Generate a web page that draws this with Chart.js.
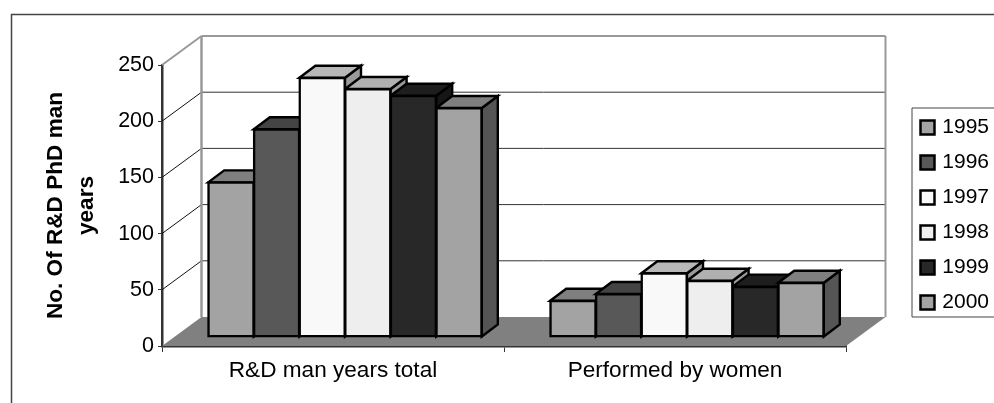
<!DOCTYPE html>
<html>
<head>
<meta charset="utf-8">
<style>html,body{margin:0;padding:0;background:#fff}canvas{display:block}</style>
<script src="https://cdn.jsdelivr.net/npm/chart.js@4"></script>
</head>
<body>
<canvas id="c" width="994" height="403"></canvas>
<script>
const categories = ["R&D man years total", "Performed by women"];
const seriesNames = ["1995", "1996", "1997", "1998", "1999", "2000"];
const v1995 = [137.6, 32.3];
const v1996 = [184.8, 38.3];
const v1997 = [230.7, 56.7];
const v1998 = [220.6, 50];
const v1999 = [214.7, 44.8];
const v2000 = [203.7, 48.3];
const seriesValues = [v1995, v1996, v1997, v1998, v1999, v2000];
const frontColors = ["#a3a3a3", "#585858", "#f9f9f9", "#eeeeee", "#282828", "#a3a3a3"];
const topColors = ["#7f7f7f", "#444444", "#b8b8b8", "#b0b0b0", "#1e1e1e", "#7f7f7f"];
const sideColors = ["#555555", "#333333", "#999999", "#999999", "#161616", "#555555"];
const FONT = "'Liberation Sans', Arial, sans-serif";

const wallDX = 39.5, wallDY = -29;   // depth of the 3D box
const barDX = 12, barDY = -9;        // offset of the bar plane
const faceDX = 16, faceDY = -12;     // depth of a bar

function poly(ctx, pts, fill, stroke, lw) {
  ctx.beginPath();
  pts.forEach((p, i) => i ? ctx.lineTo(p[0], p[1]) : ctx.moveTo(p[0], p[1]));
  ctx.closePath();
  if (fill) { ctx.fillStyle = fill; ctx.fill(); }
  if (stroke) { ctx.strokeStyle = stroke; ctx.lineWidth = lw; ctx.stroke(); }
}
function line(ctx, x1, y1, x2, y2, color, lw) {
  ctx.beginPath(); ctx.moveTo(x1, y1); ctx.lineTo(x2, y2);
  ctx.strokeStyle = color; ctx.lineWidth = lw; ctx.stroke();
}

const frame3d = {
  id: "frame3d",
  afterLayout(chart) {
    const lg = chart.legend;
    lg.left = 906.5; lg.right = 989; lg.top = 103; lg.bottom = 103 + lg.height;
  },
  beforeDraw(chart) {
    const ctx = chart.ctx;
    ctx.save();
    ctx.strokeStyle = "#444444"; ctx.lineWidth = 1.5;
    ctx.strokeRect(11.5, 14.5, 1100, 500);
    ctx.restore();
  },
  beforeDatasetsDraw(chart) {
    const ctx = chart.ctx, a = chart.chartArea, ys = chart.scales.y;
    ctx.save();
    const L = a.left, R = a.right, T = a.top, B = a.bottom;
    // floor
    poly(ctx, [[L, B], [L + wallDX, B + wallDY], [R + wallDX, B + wallDY], [R, B]], "#808080");
    // gridlines on walls
    ys.ticks.forEach(t => {
      const py = ys.getPixelForValue(t.value);
      if (t.value > 0 && t.value < 250) {
        line(ctx, L, py, L + wallDX, py + wallDY, "#111111", 1);
        line(ctx, L + wallDX, py + wallDY, R + wallDX, py + wallDY, "#333333", 1);
      }
    });
    // wall edges
    line(ctx, L, T, L + wallDX, T + wallDY, "#999999", 2);
    line(ctx, L + wallDX, T + wallDY, L + wallDX, B + wallDY, "#999999", 2.5);
    line(ctx, L + wallDX, T + wallDY, R + wallDX, T + wallDY, "#999999", 2);
    line(ctx, R + wallDX, T + wallDY, R + wallDX, B + wallDY, "#999999", 2);
    // legend frame
    line(ctx, 912, 108, 1000, 108, "#444444", 1);
    line(ctx, 912, 317, 1000, 317, "#444444", 1);
    line(ctx, 912, 108, 912, 317, "#444444", 1);
    // bars' depth faces, painted series by series
    ctx.translate(barDX, barDY);
    ctx.lineJoin = "miter";
    for (let g = 0; g < categories.length; g++) {
      chart.data.datasets.forEach((ds, s) => {
        const el = chart.getDatasetMeta(s).data[g];
        const x0 = el.x - el.width / 2, x1 = el.x + el.width / 2, yT = el.y, yB = el.base;
        poly(ctx, [[x1, yT], [x1 + faceDX, yT + faceDY], [x1 + faceDX, yB + faceDY], [x1, yB]], sideColors[s], "#000", 2.4);
        poly(ctx, [[x0, yT], [x0 + faceDX, yT + faceDY], [x1 + faceDX, yT + faceDY], [x1, yT]], topColors[s], "#000", 2.4);
      });
    }
  },
  afterDatasetsDraw(chart) { chart.ctx.restore(); }
};

new Chart(document.getElementById("c"), {
  type: "bar",
  data: {
    labels: categories,
    datasets: seriesNames.map((n, i) => ({
      label: n,
      data: seriesValues[i],
      backgroundColor: frontColors[i],
      borderColor: "#000000",
      borderWidth: 2.5,
      inflateAmount: 1,
      borderSkipped: false,
      clip: false
    }))
  },
  options: {
    responsive: false,
    animation: false,
    layout: { padding: { left: 0, top: 65, right: 148, bottom: 0 } },
    datasets: { bar: { categoryPercentage: 0.8, barPercentage: 1 } },
    plugins: {
      title: { display: false },
      tooltip: { enabled: false },
      legend: {
        position: "chartArea",
        align: "start",
        labels: {
          boxWidth: 14, boxHeight: 14, padding: 14, textAlign: "right",
          color: "#000", font: { family: FONT, size: 21 },
          generateLabels(chart) {
            return Chart.defaults.plugins.legend.labels.generateLabels(chart)
              .map(item => Object.assign(item, { lineWidth: 2.5 }));
          }
        }
      }
    },
    scales: {
      x: {
        afterFit(s) { s.height = 57; },
        grid: { offset: true, drawOnChartArea: false, drawTicks: true, tickLength: 6, color: "#333333" },
        border: { color: "#333333", width: 2.5 },
        ticks: { color: "#000", font: { family: FONT, size: 22.6 }, padding: 5, maxRotation: 0 }
      },
      y: {
        min: 0, max: 250,
        afterFit(s) { s.width = 162; },
        grid: { drawOnChartArea: false, drawTicks: true, tickLength: 4, color: "#333333" },
        border: { color: "#333333", width: 2.5 },
        ticks: { stepSize: 50, color: "#000", font: { family: FONT, size: 21.5 }, padding: 4 },
        title: {
          display: true,
          text: ["No. Of R&D PhD man", "years"],
          color: "#000",
          font: { family: FONT, size: 22.6, weight: "bold", lineHeight: 1.35 },
          padding: { top: 41, bottom: 0 }
        }
      }
    }
  },
  plugins: [frame3d]
});
</script>
</body>
</html>
